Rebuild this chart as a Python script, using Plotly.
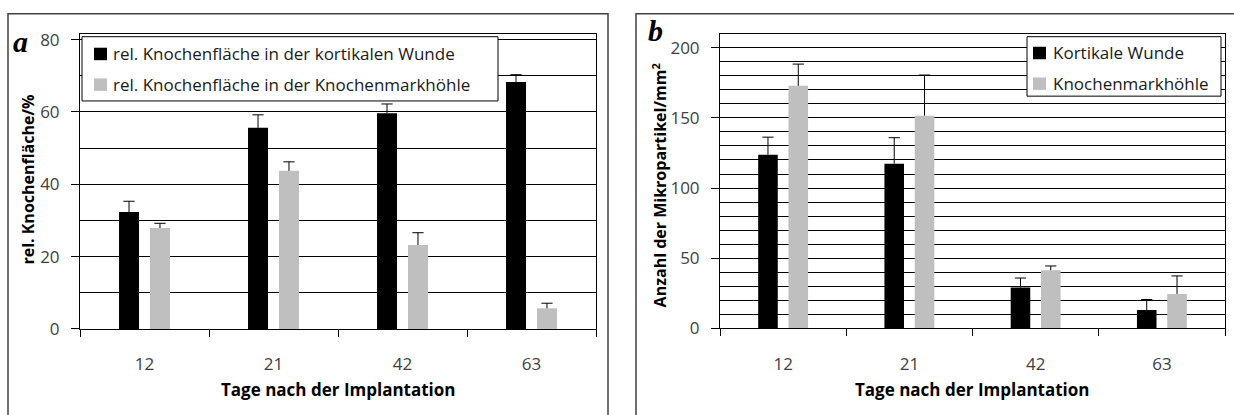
import plotly.graph_objects as go

# Days after implantation (categories)
days = ["12", "21", "42", "63"]

# Panel a: relative bone area (%)
area_cortical = [32.3, 55.6, 59.6, 68.3]
area_cortical_err = [3.0, 3.6, 2.6, 2.0]
area_marrow = [27.9, 43.7, 23.2, 5.7]
area_marrow_err = [1.3, 2.5, 3.4, 1.4]

# Panel b: number of microparticles per mm²
count_cortical = [123.8, 117.4, 29.0, 13.0]
count_cortical_err = [12.5, 18.5, 6.8, 7.5]
count_marrow = [172.9, 151.6, 41.4, 24.5]
count_marrow_err = [15.5, 29.0, 3.0, 12.8]

names_a = ["rel. Knochenfläche in der kortikalen Wunde",
           "rel. Knochenfläche in der Knochenmarkhöhle"]
names_b = ["Kortikale Wunde", "Knochenmarkhöhle"]

W, H = 1234, 415
FONT = "Open Sans"
FS = 17
BAR_W = 0.155
SHIFT = 0.12
BLACK = "#000000"
GREY = "#bfbfbf"
TICK_COL = "#404040"


def px(x):
    return x / W


def py(y):
    return 1 - y / H


fig = go.Figure()
xs = list(range(len(days)))


def add_pair(vals1, err1, vals2, err2, names, xa, ya):
    for vals, err, name, col, off in [
        (vals1, err1, names[0], BLACK, -SHIFT),
        (vals2, err2, names[1], GREY, SHIFT),
    ]:
        fig.add_trace(go.Bar(
            x=xs, y=vals, name=name, width=BAR_W, offset=off - BAR_W / 2,
            marker=dict(color=col, line=dict(width=0)),
            error_y=dict(type="data", symmetric=False, array=err,
                         arrayminus=[0] * len(err), width=0,
                         color="black", thickness=1),
            xaxis=xa, yaxis=ya, showlegend=False,
        ))
        # caps on the upper end of each error bar
        fig.add_trace(go.Scatter(
            x=[x + off for x in xs], y=[v + e for v, e in zip(vals, err)],
            mode="markers", showlegend=False, hoverinfo="skip",
            marker=dict(symbol="line-ew", size=8,
                        line=dict(color="black", width=1)),
            xaxis=xa, yaxis=ya,
        ))


add_pair(area_cortical, area_cortical_err, area_marrow, area_marrow_err,
         names_a, "x", "y")
add_pair(count_cortical, count_cortical_err, count_marrow, count_marrow_err,
         names_b, "x2", "y2")

xaxis_common = dict(
    range=[-0.5, len(days) - 0.5], tickvals=xs, ticktext=days,
    ticks="outside", ticklen=20, tickcolor="rgba(0,0,0,0)",
    showgrid=False, zeroline=False,
    showline=True, linecolor="black", linewidth=1, mirror=True,
    tickfont=dict(family=FONT, size=FS, color=TICK_COL),
    minor=dict(tickvals=[i - 0.5 for i in range(len(days) + 1)],
               ticks="outside", ticklen=7, tickcolor="black", showgrid=False),
    fixedrange=True,
)
yaxis_common = dict(
    ticks="outside", ticklen=8, tickcolor="black", ticklabelstandoff=8,
    showgrid=True, gridcolor="black", gridwidth=1, zeroline=False,
    showline=True, linecolor="black", linewidth=1, mirror=True,
    tickfont=dict(family=FONT, size=FS, color=TICK_COL),
    fixedrange=True,
)

fig.update_layout(
    width=W, height=H,
    margin=dict(l=0, r=0, t=0, b=0),
    paper_bgcolor="white", plot_bgcolor="white",
    barmode="overlay", showlegend=False,
    font=dict(family=FONT, size=FS, color="black"),
    xaxis=dict(domain=[px(80), px(596)], anchor="y", **xaxis_common),
    yaxis=dict(domain=[py(336.7), py(29)], anchor="x", range=[0, 81.6],
               dtick=20, tick0=0,
               minor=dict(dtick=10, tick0=0, showgrid=True, gridcolor="black",
                          gridwidth=1, ticks=""),
               **yaxis_common),
    xaxis2=dict(domain=[px(720), px(1225)], anchor="y2", **xaxis_common),
    yaxis2=dict(domain=[py(336), py(29)], anchor="x2", range=[0, 210],
                dtick=50, tick0=0,
                minor=dict(dtick=10, tick0=0, showgrid=True, gridcolor="black",
                           gridwidth=1, ticks=""),
                **yaxis_common),
)

# outer frames around each panel (bottom and far right run off the page)
for x0, x1 in [(8, 608), (636, 1270)]:
    fig.add_shape(type="rect", xref="paper", yref="paper",
                  x0=px(x0), x1=px(x1), y0=py(440), y1=py(8),
                  line=dict(color="#404040", width=1.5), layer="below")


# legend boxes: frame, colour swatches and entry labels
def draw_legend(names, box, sw_x, text_x, rows):
    x0, y0, x1, y1 = box
    fig.add_shape(type="rect", xref="paper", yref="paper",
                  x0=px(x0), x1=px(x1), y0=py(y1), y1=py(y0),
                  line=dict(color="black", width=1), fillcolor="white",
                  layer="above")
    for name, col, yc in zip(names, [BLACK, GREY], rows):
        fig.add_shape(type="rect", xref="paper", yref="paper",
                      x0=px(sw_x), x1=px(sw_x + 13),
                      y0=py(yc + 6.5), y1=py(yc - 6.5),
                      line=dict(width=0), fillcolor=col, layer="above")
        fig.add_annotation(xref="paper", yref="paper", showarrow=False,
                           text=name, x=px(text_x), y=py(yc),
                           xanchor="left", yanchor="middle",
                           font=dict(family=FONT, size=FS, color="#1a1a1a"))


draw_legend(names_a, (82, 32, 498, 99), 94, 111, [50, 82])
draw_legend(names_b, (1027, 32, 1221, 94), 1033, 1051, [49, 81])

annotations = [
    dict(text="<b>Tage nach der Implantation</b>", x=px(338), y=py(400), size=17),
    dict(text="<b>Tage nach der Implantation</b>", x=px(972), y=py(400), size=17),
    dict(text="<b>rel. Knochenfläche/%</b>", x=px(28), y=py(181),
         textangle=-90, size=16),
    dict(text="<b>Anzahl der Mikropartikel/mm<sup>2</sup></b>", x=px(660),
         y=py(186), textangle=-90, size=16),
]
for a in annotations:
    size = a.pop("size")
    fig.add_annotation(xref="paper", yref="paper", showarrow=False,
                       xanchor="center", yanchor="middle",
                       font=dict(family=FONT, size=size, color="black"), **a)

for letter, x, y in [("a", 21, 37), ("b", 655, 26)]:
    fig.add_annotation(xref="paper", yref="paper", showarrow=False,
                       text=f"<b><i>{letter}</i></b>", x=px(x), y=py(y),
                       xanchor="center", yanchor="middle",
                       font=dict(family="Liberation Serif", size=30,
                                 color="black"))

fig.write_html("out.html")
